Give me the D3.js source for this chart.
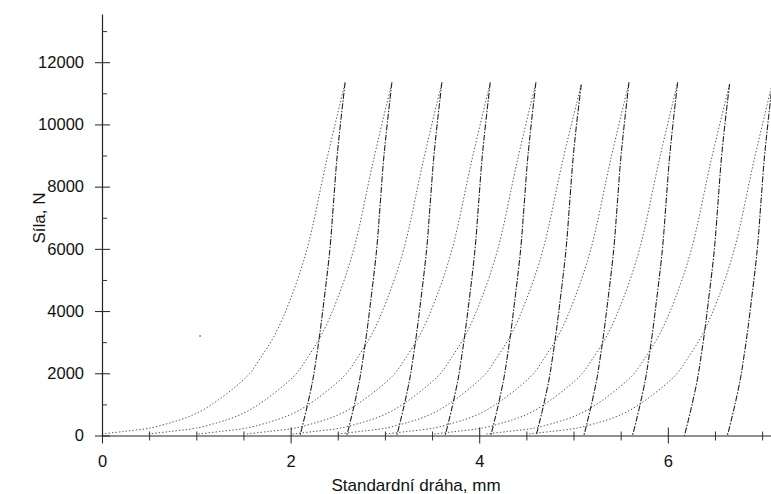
<!DOCTYPE html>
<html><head><meta charset="utf-8">
<script src="https://cdn.jsdelivr.net/npm/d3@7/dist/d3.min.js"></script>
<style>
body{margin:0;background:#fff}
svg{display:block}
text{font-family:"Liberation Sans",Arial,Helvetica,sans-serif;fill:#111}
</style>
</head><body>
<svg id="chart" width="771" height="494"></svg>
<script>
// ---- data ----
const xTickValues = [0, 2, 4, 6];
const xMinorTickValues = [0.5, 1, 1.5, 2.5, 3, 3.5, 4.5, 5, 5.5, 6.5, 7];
const yTickValues = [0, 2000, 4000, 6000, 8000, 10000, 12000];
const yMinorTickValues = [1000, 3000, 5000, 7000, 9000, 11000, 13000];
const xTitle = "Standardní dráha, mm";
const yTitle = "Síla, N";

// force levels (N) along the loading branches
const loadForce = [50, 130, 240, 430, 590, 800, 1130, 1600, 2000, 2480, 3250, 4350, 5970, 8870, 11350];
// displacement (mm) of each loading branch at those force levels
const loadX = [
  [0.000, 0.228, 0.508, 0.748, 0.908, 1.058, 1.228, 1.428, 1.568, 1.678, 1.835, 1.994, 2.172, 2.384, 2.578],
  [0.494, 0.724, 1.004, 1.244, 1.404, 1.554, 1.724, 1.924, 2.064, 2.174, 2.331, 2.490, 2.668, 2.880, 3.074],
  [1.024, 1.254, 1.534, 1.774, 1.934, 2.084, 2.254, 2.454, 2.594, 2.704, 2.861, 3.020, 3.198, 3.410, 3.604],
  [1.537, 1.767, 2.047, 2.287, 2.447, 2.597, 2.767, 2.967, 3.107, 3.217, 3.374, 3.533, 3.711, 3.923, 4.117],
  [2.021, 2.251, 2.531, 2.771, 2.931, 3.081, 3.251, 3.451, 3.591, 3.701, 3.858, 4.017, 4.195, 4.407, 4.601],
  [2.502, 2.732, 3.012, 3.252, 3.412, 3.562, 3.732, 3.932, 4.072, 4.182, 4.339, 4.498, 4.676, 4.888, 5.082],
  [3.008, 3.238, 3.518, 3.758, 3.918, 4.068, 4.238, 4.438, 4.578, 4.688, 4.845, 5.004, 5.182, 5.394, 5.588],
  [3.524, 3.754, 4.034, 4.274, 4.434, 4.584, 4.754, 4.954, 5.094, 5.204, 5.361, 5.520, 5.698, 5.910, 6.104],
  [4.075, 4.305, 4.585, 4.825, 4.985, 5.135, 5.305, 5.505, 5.645, 5.755, 5.912, 6.071, 6.249, 6.461, 6.655],
  [4.530, 4.760, 5.040, 5.280, 5.440, 5.590, 5.760, 5.960, 6.100, 6.210, 6.367, 6.526, 6.704, 6.916, 7.110]
];
// force levels (N) along the unloading branches
const unloadForce = [11350, 10000, 8870, 7400, 5970, 4190, 3230, 2400, 1830, 970, 400, 100, 0];
const unloadX = [
  [2.578, 2.528, 2.490, 2.453, 2.416, 2.348, 2.308, 2.268, 2.238, 2.178, 2.133, 2.108, 2.098],
  [3.074, 3.024, 2.986, 2.949, 2.912, 2.844, 2.804, 2.764, 2.734, 2.674, 2.629, 2.604, 2.594],
  [3.604, 3.554, 3.516, 3.479, 3.442, 3.374, 3.334, 3.294, 3.264, 3.204, 3.159, 3.134, 3.124],
  [4.117, 4.067, 4.029, 3.992, 3.955, 3.887, 3.847, 3.807, 3.777, 3.717, 3.672, 3.647, 3.637],
  [4.601, 4.551, 4.513, 4.476, 4.439, 4.371, 4.331, 4.291, 4.261, 4.201, 4.156, 4.131, 4.121],
  [5.082, 5.032, 4.994, 4.957, 4.920, 4.852, 4.812, 4.772, 4.742, 4.682, 4.637, 4.612, 4.602],
  [5.588, 5.538, 5.500, 5.463, 5.426, 5.358, 5.318, 5.278, 5.248, 5.188, 5.143, 5.118, 5.108],
  [6.104, 6.054, 6.016, 5.979, 5.942, 5.874, 5.834, 5.794, 5.764, 5.704, 5.659, 5.634, 5.624],
  [6.655, 6.605, 6.567, 6.530, 6.493, 6.425, 6.385, 6.345, 6.315, 6.255, 6.210, 6.185, 6.175],
  [7.110, 7.060, 7.022, 6.985, 6.948, 6.880, 6.840, 6.800, 6.770, 6.710, 6.665, 6.640, 6.630]
];
const peakForce = [11350, 11350, 11350, 11350, 11350, 11280, 11350, 11350, 11300, 11350];
const strayPoint = [1.04, 3200];

// ---- drawing ----
const W = 771, H = 494;
const svg = d3.select("#chart");
svg.append("rect").attr("width", W).attr("height", H).attr("fill", "#fff");

const x = d3.scaleLinear().domain([0, 7.094]).range([102, 771]);
const y = d3.scaleLinear().domain([0, 13550]).range([435.5, 14]);

svg.append("defs").append("clipPath").attr("id", "plotClip")
  .append("rect").attr("x", 102).attr("y", 0).attr("width", W - 102).attr("height", 437);

const plot = svg.append("g").attr("clip-path", "url(#plotClip)");

const line = d3.line()
  .x(d => x(d[0])).y(d => y(d[1]))
  .curve(d3.curveCatmullRom.alpha(0.5));

// loading branches (light dotted)
loadX.forEach((xs, i) => {
  const pts = xs.map((v, j) => [v, j === xs.length - 1 ? peakForce[i] : loadForce[j]]);
  plot.append("path").attr("d", line(pts))
    .attr("fill", "none").attr("stroke", "#555").attr("stroke-width", 1)
    .attr("stroke-dasharray", "1.4,2");
});
// unloading branches (darker dashed)
unloadX.forEach((xs, i) => {
  const pts = xs.map((v, j) => [v, j === 0 ? peakForce[i] : unloadForce[j]]);
  plot.append("path").attr("d", line(pts))
    .attr("fill", "none").attr("stroke", "#222").attr("stroke-width", 1.1)
    .attr("stroke-dasharray", "6,1.5,1.5,1.5");
});
plot.append("circle").attr("cx", x(strayPoint[0])).attr("cy", y(strayPoint[1]))
  .attr("r", 0.8).attr("fill", "#333");

// y axis
const yAxis = svg.append("g").attr("transform", "translate(102,0)")
  .call(d3.axisLeft(y).tickValues(yTickValues).tickSizeOuter(0).tickPadding(11)
        .tickFormat(d3.format("d")));
yAxis.selectAll(".tick line").attr("x1", 8).attr("x2", -7).attr("stroke", "#222");
yAxis.select(".domain").attr("stroke", "#222").attr("stroke-width", 1.2);
yAxis.selectAll(".tick text").attr("font-size", 16.5).attr("x", -18).attr("fill", "#111");
const yMinor = svg.append("g").attr("transform", "translate(102,0)")
  .call(d3.axisRight(y).tickValues(yMinorTickValues).tickSize(5).tickFormat(""));
yMinor.select(".domain").remove();
yMinor.selectAll(".tick line").attr("stroke", "#333");

// x axis
const xAxis = svg.append("g").attr("transform", "translate(0,435.5)")
  .call(d3.axisBottom(x).tickValues(xTickValues).tickSizeOuter(0).tickPadding(14)
        .tickFormat(d3.format("d")));
xAxis.selectAll(".tick line").attr("y1", -8).attr("y2", 8).attr("stroke", "#222");
xAxis.select(".domain").attr("stroke", "#222").attr("stroke-width", 1.2);
xAxis.selectAll(".tick text").attr("font-size", 16.5).attr("fill", "#111");
const xMinor = svg.append("g").attr("transform", "translate(0,435.5)")
  .call(d3.axisBottom(x).tickValues(xMinorTickValues).tickSize(5).tickFormat(""));
xMinor.select(".domain").remove();
xMinor.selectAll(".tick line").attr("y1", -4).attr("stroke", "#333");

// titles
svg.append("text").attr("x", 416).attr("y", 491).attr("text-anchor", "middle")
  .attr("font-size", 17).text(xTitle);
svg.append("text").attr("transform", "translate(45,218) rotate(-90)")
  .attr("text-anchor", "middle").attr("font-size", 17).text(yTitle);
</script>
</body></html>
